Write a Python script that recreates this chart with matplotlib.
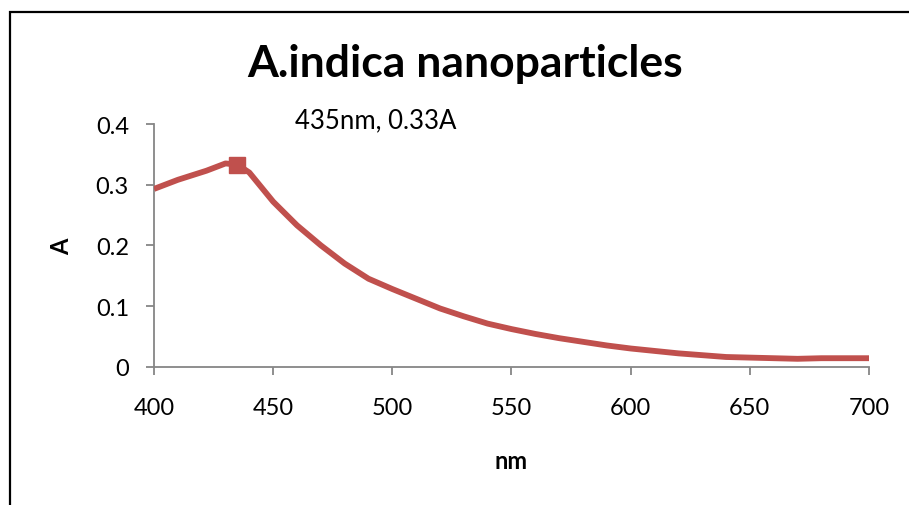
import matplotlib
matplotlib.use("Agg")
import matplotlib.pyplot as plt
from matplotlib.patches import Rectangle

# absorbance spectrum of the nanoparticle suspension
wavelength_nm = [400, 410, 422, 430, 435, 440, 450, 460, 470, 480, 490, 500,
                 510, 520, 530, 540, 550, 560, 570, 580, 590, 600, 610, 620,
                 630, 640, 650, 660, 670, 680, 690, 700]
absorbance = [0.293, 0.308, 0.323, 0.335, 0.333, 0.320, 0.272, 0.233, 0.200,
              0.170, 0.145, 0.128, 0.112, 0.096, 0.083, 0.071, 0.062, 0.054,
              0.047, 0.041, 0.035, 0.030, 0.026, 0.022, 0.019, 0.016, 0.015,
              0.014, 0.013, 0.014, 0.014, 0.014]

peak_nm = 435
peak_abs = 0.333
peak_label = "435nm, 0.33A"

x_ticks = [400, 450, 500, 550, 600, 650, 700]
y_ticks = [0, 0.1, 0.2, 0.3, 0.4]
y_tick_labels = ["0", "0.1", "0.2", "0.3", "0.4"]

LINE_COLOR = "#C0504D"
AXIS_COLOR = "#868686"
FONT = "Lato"

plt.rcParams["font.family"] = FONT

fig = plt.figure(figsize=(9.09, 5.06), dpi=100)
ax = fig.add_axes([154 / 909, 1 - 367.7 / 506, 715 / 909, 242.7 / 506])

ax.plot(wavelength_nm, absorbance, color=LINE_COLOR, lw=4.2,
        solid_joinstyle="round", solid_capstyle="butt", zorder=3)
ax.plot([peak_nm], [peak_abs], marker="s", ms=11, color=LINE_COLOR,
        zorder=4, clip_on=False)

ax.set_xlim(400, 700)
ax.set_ylim(0, 0.4)
ax.set_xticks(x_ticks)
ax.set_yticks(y_ticks)
ax.set_yticklabels(y_tick_labels)

for side in ["top", "right"]:
    ax.spines[side].set_visible(False)
for side in ["left", "bottom"]:
    ax.spines[side].set_color(AXIS_COLOR)
    ax.spines[side].set_linewidth(1.3)

ax.tick_params(axis="both", direction="out", length=6, width=1.3,
               color=AXIS_COLOR, labelsize=17, labelcolor="black")
ax.tick_params(axis="x", pad=16)
ax.tick_params(axis="y", pad=12)

ax.set_xlabel("nm", fontsize=17, fontweight="bold", labelpad=22)
ax.set_ylabel("A", fontsize=17, fontweight="bold", labelpad=16)

fig.text(465 / 909, 1 - 76.7 / 506, "A.indica nanoparticles",
         fontsize=32, fontweight="bold", ha="center", va="baseline")
fig.text(295 / 909, 1 - 128 / 506, peak_label, fontsize=18.5,
         ha="left", va="baseline")

# chart frame, cut off at the right and bottom
fig.add_artist(Rectangle((10 / 909, -0.2), 1.5, 1.2 - 13 / 506,
                         transform=fig.transFigure, fill=False,
                         edgecolor="black", lw=1.6))

fig.savefig("out.png", dpi=100, facecolor="white")
